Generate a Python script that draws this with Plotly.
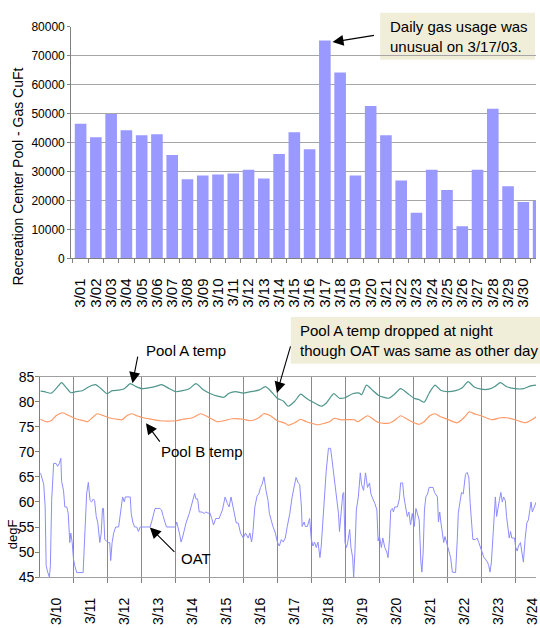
import plotly.graph_objects as go

# ---------------- data: top chart (daily gas use) ----------------
gas_days = ["3/01", "3/02", "3/03", "3/04", "3/05", "3/06", "3/07", "3/08", "3/09", "3/10",
            "3/11", "3/12", "3/13", "3/14", "3/15", "3/16", "3/17", "3/18", "3/19", "3/20",
            "3/21", "3/22", "3/23", "3/24", "3/25", "3/26", "3/27", "3/28", "3/29", "3/30", "3/31"]
gas_cuft = [46500, 41800, 49800, 44200, 42500, 42800, 35700, 27300, 28600, 29000,
            29300, 30600, 27600, 36000, 43500, 37700, 75200, 64100, 28600, 52600,
            42500, 26900, 15800, 30600, 23600, 11100, 30600, 51600, 24900, 19500, 19900]

# ---------------- data: bottom chart (temperatures) ----------------
temp_days = ["3/10", "3/11", "3/12", "3/13", "3/14", "3/15", "3/16", "3/17",
             "3/18", "3/19", "3/20", "3/21", "3/22", "3/23", "3/24"]

# hours after 3/10 00:00
pool_a_hours = [0.7, 3.5, 8.2, 11.7, 15.6, 18.6, 22.1, 25.6, 30.3, 35.0,
                39.6, 43.1, 47.8, 51.3, 55.9, 59.9, 64.1, 67.6, 72.2, 78.1,
                82.7, 86.2, 91.8, 96.0, 101.1, 105.8, 110.5, 115.2, 120.1, 125.7,
                130.3, 133.9, 138.5, 143.9, 149.0, 154.9, 159.6, 163.1, 168.0, 172.4,
                175.6, 180.3, 184.5, 188.5, 192.0, 199.0, 202.5, 207.9, 211.9, 215.8,
                221.2, 225.9, 227.5, 231.0, 235.2, 239.9, 246.9, 250.4, 255.1, 259.8,
                264.5, 268.2, 271.7, 275.2, 279.4, 283.4, 288.1, 293.9, 298.6, 302.8,
                306.8, 311.9, 317.3, 322.0, 325.5, 330.1, 336.0, 341.8, 346.5, 350.9]
pool_a_temp = [82.1, 82.0, 81.7, 82.6, 83.8, 82.9, 81.8, 82.0, 82.2, 83.0,
               83.4, 82.7, 81.6, 82.2, 82.3, 82.6, 83.6, 83.1, 82.6, 82.8,
               83.1, 83.4, 82.6, 82.0, 82.2, 82.6, 83.6, 82.5, 81.7, 81.1,
               80.9, 81.7, 82.0, 81.7, 82.0, 82.3, 83.0, 82.2, 80.7, 80.1,
               79.1, 80.1, 81.5, 80.7, 80.1, 79.1, 79.7, 81.6, 80.7, 80.8,
               81.6, 81.7, 81.4, 83.3, 82.3, 81.2, 80.7, 81.4, 82.6, 81.7,
               80.7, 80.4, 79.9, 81.7, 83.3, 82.3, 82.0, 82.2, 82.8, 84.0,
               83.0, 82.5, 82.5, 83.1, 83.8, 83.0, 82.6, 82.6, 83.1, 83.3]

pool_b_hours = [0.7, 4.7, 8.2, 11.7, 16.3, 21.0, 25.6, 31.5, 33.8, 37.3,
                40.8, 45.4, 48.9, 54.8, 58.3, 61.7, 65.2, 68.7, 73.4, 79.2,
                85.0, 96.0, 101.1, 108.1, 114.0, 120.1, 125.7, 130.3, 136.2, 143.9,
                149.0, 154.9, 158.4, 163.1, 168.0, 173.6, 175.6, 180.3, 184.5, 188.5,
                192.0, 196.7, 201.3, 204.9, 208.4, 213.0, 222.4, 224.7, 231.7, 235.2,
                239.9, 246.9, 250.4, 255.1, 259.8, 264.5, 268.2, 271.7, 275.7, 279.4,
                283.4, 288.1, 295.1, 299.8, 303.7, 307.9, 311.9, 319.6, 325.5, 330.1,
                336.0, 343.0, 347.7, 350.9]
pool_b_temp = [76.5, 76.0, 76.2, 77.2, 77.8, 77.2, 76.6, 76.2, 76.0, 76.8,
               77.6, 77.2, 76.8, 76.5, 76.4, 77.2, 77.6, 77.2, 76.8, 76.5,
               76.2, 76.2, 76.5, 76.8, 77.6, 76.8, 76.0, 76.2, 76.6, 76.5,
               76.2, 76.8, 77.6, 77.2, 76.2, 75.7, 75.3, 75.8, 76.5, 76.0,
               75.7, 75.4, 75.7, 76.0, 76.7, 76.4, 76.4, 76.0, 77.2, 76.6,
               75.8, 75.7, 76.2, 77.2, 76.5, 75.8, 75.5, 76.0, 77.2, 77.6,
               77.0, 76.5, 75.8, 76.8, 78.0, 77.5, 77.2, 76.4, 76.8, 76.8,
               76.4, 75.8, 76.4, 77.0]

oat_hours = [0.7, 3.0, 4.0, 4.7, 5.8, 7.0, 7.7, 8.6, 10.0, 11.7,
             12.8, 14.0, 15.1, 15.6, 17.0, 17.9, 19.3, 20.3, 21.4, 22.1,
             23.1, 24.0, 24.9, 26.3, 30.8, 31.5, 32.6, 33.3, 34.5, 35.7,
             36.8, 38.0, 38.9, 40.1, 41.2, 42.6, 43.6, 44.5, 45.2, 46.1,
             48.5, 49.6, 50.3, 51.3, 52.4, 53.8, 55.9, 56.6, 57.8, 58.7,
             59.9, 60.6, 64.1, 64.8, 65.9, 67.1, 68.7, 69.9, 71.1, 78.1,
             79.2, 80.4, 81.6, 85.0, 86.2, 87.4, 88.5, 89.7, 96.0, 96.9,
             98.8, 100.0, 101.1, 103.5, 105.8, 108.1, 109.6, 110.5, 111.7, 112.8,
             114.7, 116.3, 117.5, 119.4, 120.1, 121.7, 122.9, 124.5, 126.9, 129.2,
             131.1, 132.7, 133.9, 135.3, 136.7, 138.1, 139.0, 140.4, 142.0, 143.9,
             145.5, 147.4, 148.6, 149.8, 150.7, 152.1, 153.0, 153.7, 154.9, 156.1,
             157.2, 158.6, 160.0, 161.4, 162.4, 163.8, 164.9, 166.6, 168.0, 169.4,
             170.8, 172.2, 173.6, 175.0, 176.8, 178.4, 179.9, 181.2, 182.7, 183.8,
             185.0, 185.5, 186.9, 187.8, 189.2, 190.8, 192.0, 193.2, 194.3, 195.5,
             196.7, 198.1, 199.0, 200.2, 201.3, 202.5, 204.1, 205.6, 206.5, 207.7,
             208.8, 210.0, 211.2, 211.9, 213.0, 214.2, 214.9, 215.8, 216.8, 217.7,
             219.1, 220.0, 221.2, 221.9, 222.8, 223.8, 225.2, 226.6, 227.5, 228.9,
             230.3, 231.7, 233.1, 234.1, 235.5, 236.9, 238.3, 239.2, 240.1, 241.5,
             242.5, 243.9, 245.3, 246.2, 247.2, 248.1, 249.3, 250.0, 250.9, 252.8,
             254.2, 255.1, 256.5, 257.4, 258.6, 259.8, 260.9, 262.1, 263.3, 264.7,
             265.9, 267.0, 268.2, 269.4, 270.1, 271.0, 271.9, 272.9, 274.1, 275.2,
             278.0, 279.0, 281.1, 281.8, 282.7, 283.6, 284.6, 285.5, 286.4, 287.4,
             288.3, 289.2, 290.4, 291.6, 293.9, 295.1, 295.8, 297.0, 298.1, 299.3,
             300.0, 300.9, 302.1, 303.3, 304.2, 305.1, 306.1, 307.9, 309.1, 310.3,
             311.4, 312.6, 313.8, 314.9, 316.4, 317.3, 318.2, 319.2, 320.1, 321.0,
             322.0, 322.9, 323.8, 324.8, 325.9, 326.9, 327.8, 329.0, 329.9, 330.8,
             331.8, 332.7, 333.6, 335.5, 336.4, 337.4, 338.3, 339.7, 340.7, 341.8,
             343.0, 344.2, 345.3, 346.5, 347.2, 348.1, 349.5, 350.9]
oat_temp = [65.8, 63.5, 59.0, 47.3, 46.0, 45.0, 47.3, 60.3, 67.7, 67.7,
            67.1, 67.7, 68.7, 64.2, 62.2, 59.0, 59.0, 57.7, 51.9, 53.8,
            51.9, 48.6, 47.3, 45.9, 45.9, 49.9, 59.0, 61.6, 63.9, 60.3,
            60.0, 60.6, 60.3, 57.1, 55.8, 51.9, 53.8, 58.7, 58.7, 52.5,
            51.9, 51.9, 48.3, 51.9, 53.8, 55.0, 55.0, 56.7, 58.4, 61.0,
            60.0, 61.0, 61.0, 57.7, 56.0, 55.0, 55.0, 54.1, 55.0, 55.0,
            56.0, 57.7, 58.7, 58.7, 58.4, 57.1, 55.8, 55.0, 55.0, 56.0,
            53.8, 52.0, 53.0, 55.8, 57.7, 60.3, 61.7, 60.6, 60.6, 58.0,
            58.0, 57.7, 58.0, 57.7, 58.0, 56.7, 55.4, 56.7, 56.7, 58.4,
            61.0, 59.7, 59.0, 61.0, 59.0, 57.1, 55.8, 55.8, 53.8, 52.8,
            53.8, 52.8, 53.8, 52.0, 53.8, 59.0, 60.3, 61.2, 61.6, 62.9,
            63.5, 65.0, 62.3, 60.3, 57.7, 56.0, 55.1, 53.8, 52.0, 51.2,
            52.5, 52.0, 52.8, 55.1, 57.7, 60.9, 63.5, 64.9, 63.8, 63.5,
            59.0, 55.1, 56.0, 55.1, 55.1, 56.7, 52.5, 51.2, 52.0, 50.9,
            52.0, 48.9, 51.2, 56.4, 61.6, 66.1, 70.7, 70.7, 68.7, 66.1,
            63.5, 60.3, 57.7, 54.1, 57.1, 61.6, 61.9, 51.9, 50.9, 51.9,
            54.5, 50.9, 48.9, 45.0, 50.0, 58.4, 61.0, 65.8, 63.5, 62.3,
            65.8, 62.9, 63.8, 61.6, 60.6, 59.7, 58.4, 52.2, 53.2, 50.9,
            52.8, 50.9, 50.0, 48.9, 52.5, 58.4, 58.7, 58.0, 59.0, 59.0,
            60.6, 63.8, 63.8, 61.0, 59.0, 57.1, 58.0, 55.4, 57.7, 55.1,
            58.7, 57.7, 56.4, 48.0, 46.0, 50.0, 58.4, 61.0, 61.6, 62.9,
            62.9, 61.9, 61.0, 56.0, 58.0, 55.8, 53.2, 51.9, 53.1, 51.9,
            50.9, 50.0, 48.9, 46.0, 45.9, 52.5, 57.7, 60.0, 61.9, 61.6,
            63.8, 65.5, 65.9, 64.8, 59.7, 55.1, 52.5, 52.5, 52.8, 51.9,
            50.9, 50.0, 49.0, 48.6, 48.0, 47.3, 46.0, 48.0, 52.5, 57.1,
            61.0, 57.1, 59.0, 60.3, 61.9, 60.0, 61.0, 60.3, 57.1, 54.5,
            52.8, 54.1, 52.8, 52.8, 50.9, 50.2, 51.2, 51.9, 50.2, 48.0,
            52.5, 55.8, 56.4, 59.0, 60.0, 58.0, 59.0, 60.0]

# ---------------- helpers (pixel -> paper) ----------------
W, H = 540, 628
FONT = "Liberation Sans, Arial, sans-serif"


def px(x):
    return x / W


def py(y):
    return 1 - y / H


fig = go.Figure()

fig.add_trace(go.Bar(x=gas_days, y=gas_cuft, marker=dict(color="#9999ff", line=dict(width=0)),
                     xaxis="x", yaxis="y", showlegend=False))

fig.add_trace(go.Scatter(x=pool_a_hours, y=pool_a_temp, mode="lines",
                         line=dict(color="#4f968c", width=1.2, shape="spline", smoothing=0.6),
                         xaxis="x2", yaxis="y2", showlegend=False))
fig.add_trace(go.Scatter(x=pool_b_hours, y=pool_b_temp, mode="lines",
                         line=dict(color="#ff9966", width=1.2, shape="spline", smoothing=0.6),
                         xaxis="x2", yaxis="y2", showlegend=False))
fig.add_trace(go.Scatter(x=oat_hours, y=oat_temp, mode="lines",
                         line=dict(color="#8c8cff", width=1),
                         xaxis="x2", yaxis="y2", showlegend=False))

day_bounds = [24 * i for i in range(1, len(temp_days))]
day_mids = [24 * i + 12 for i in range(len(temp_days))]

arrow_common = dict(text="", showarrow=True, arrowhead=2, arrowsize=2.0, arrowwidth=1.1,
                    arrowcolor="black", xref="paper", yref="paper", standoff=0)


def arrow(tail, head):
    return dict(x=px(head[0]), y=py(head[1]), ax=tail[0] - head[0], ay=tail[1] - head[1],
                **arrow_common)


def label(text, x, y, xanchor="center"):
    return dict(text=text, x=px(x), y=py(y), xref="paper", yref="paper", showarrow=False,
                xanchor=xanchor, yanchor="middle", align="left", borderpad=0,
                font=dict(size=15, color="black", family=FONT))


annotations = [
    dict(text="Recreation Center Pool - Gas CuFt", x=px(18), y=py(173), xref="paper", yref="paper",
         xanchor="center", yanchor="middle",
         showarrow=False, textangle=-90, font=dict(size=14, color="black", family=FONT)),
    dict(text="degF", x=px(12), y=py(540), xref="paper", yref="paper",
         xanchor="center", yanchor="middle",
         showarrow=False, textangle=-90, font=dict(size=13, color="black", family=FONT)),
    label("Daily gas usage was<br>unusual on 3/17/03.", 392, 29, "left"),
    arrow((378, 28), (335, 35)),
    label("Pool A temp", 187, 351),
    arrow((139, 357), (133.5, 385)),
    label("Pool B temp", 204, 455),
    arrow((162, 446), (147, 426)),
    label("OAT", 197, 565),
    arrow((177, 559), (151, 533)),
    label("Pool A temp dropped at night<br>though OAT was same as other day", 301, 341, "left"),
    arrow((293, 347), (279, 395)),
]

shapes = [
    dict(type="rect", xref="paper", yref="paper", x0=px(383), x1=px(539), y0=py(53), y1=py(5),
         fillcolor="#f0eed9", line=dict(width=0), layer="below"),
    dict(type="rect", xref="paper", yref="paper", x0=px(293), x1=px(545), y0=py(365), y1=py(317),
         fillcolor="#f0eed9", line=dict(width=0), layer="below"),
]

fig.update_layout(
    width=W, height=H,
    margin=dict(l=0, r=0, t=0, b=0),
    paper_bgcolor="white", plot_bgcolor="white",
    font=dict(family=FONT, color="black"),
    bargap=0.24,
    xaxis=dict(domain=[px(71.7), 1], anchor="y", type="category", range=[-0.618, 29.83],
               tickmode="array", tickvals=gas_days, ticktext=gas_days,
               tickson="boundaries", ticks="outside", ticklen=4, tickcolor="#808080",
               showline=True, linecolor="#808080", showgrid=False,
               tickangle=-90, tickfont=dict(size=15, color="black"), ticklabelstandoff=13,
               ticklabeloverflow="allow"),
    yaxis=dict(domain=[py(257), py(19)], anchor="x", range=[0, 80000], dtick=10000,
               showgrid=True, gridcolor="#a6a6a6", gridwidth=1, zeroline=False,
               showline=True, linecolor="#808080", ticks="outside", ticklen=3, tickcolor="#808080",
               tickfont=dict(size=12, color="black"), tickformat="d"),
    xaxis2=dict(domain=[px(40.5), 1], anchor="y2", range=[0.5, 350.7],
                tickmode="array", tickvals=day_mids, ticktext=temp_days, ticks="",
                showgrid=False, zeroline=False, showline=True, mirror=True, linecolor="#a0a0a0",
                minor=dict(tickmode="array", tickvals=day_bounds, showgrid=True, gridcolor="#8a8a8a",
                           gridwidth=1, ticks="outside", ticklen=5, tickcolor="#808080"),
                tickangle=-90, tickfont=dict(size=14, color="black"), ticklabelstandoff=14,
                ticklabeloverflow="allow"),
    yaxis2=dict(domain=[py(584), py(378.3)], anchor="x2", range=[45, 85], dtick=5,
                showgrid=False, zeroline=False, showline=True, linecolor="#808080",
                ticks="outside", ticklen=4, tickcolor="#808080", ticklabelstandoff=-2,
                tickfont=dict(size=14, color="black")),
    annotations=annotations,
    shapes=shapes,
)

fig.write_html("out.html", config={"displayModeBar": False},
               post_script="document.body.style.margin='0';document.body.style.overflow='hidden';")
